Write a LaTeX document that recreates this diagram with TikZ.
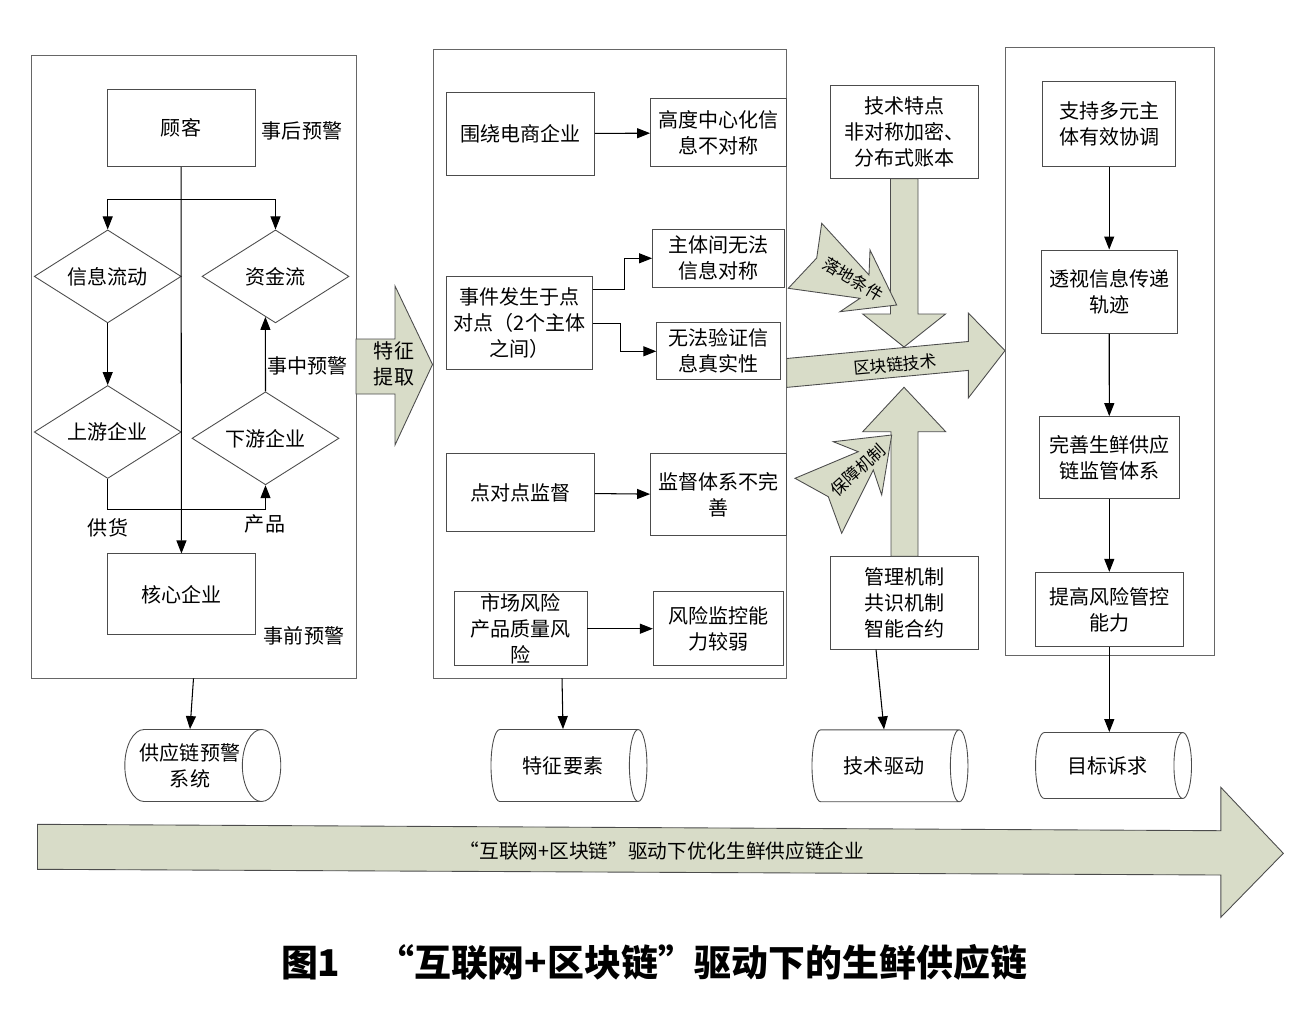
\documentclass[tikz,border=0pt]{standalone}
\usepackage{fontspec}
\setmainfont{Noto Sans CJK SC}
\usetikzlibrary{shapes.geometric,arrows.meta}
\definecolor{blockfill}{RGB}{216,220,200}

\begin{document}
\begin{tikzpicture}[x=0.02cm, y=-0.02cm, >={Triangle[length=0.26cm,width=0.2cm]},
    txt/.style = {font=\fontsize{11.4}{14.8}\selectfont},
    small/.style = {font=\fontsize{9.5}{11}\selectfont},
    box/.style = {txt, draw=black!70, line width=0.5pt, align=center, inner sep=1pt},
    panel/.style = {draw=black!60, line width=0.5pt, inner sep=0pt},
    cond/.style = {txt, draw=black!70, line width=0.5pt, diamond, aspect=1.58, inner sep=0pt, minimum width=2.94cm, minimum height=1.86cm},
    store/.style = {txt, draw=black!70, line width=0.5pt, cylinder, shape aspect=0.8, align=center, inner sep=1pt, minimum height=3.12cm, minimum width=1.44cm},
    block/.style = {draw=black!70, line width=0.5pt, fill=blockfill},
    link/.style = {->, line width=0.6pt}]
    \useasboundingbox (0,0) rectangle (1300,1024);

    \node[panel, minimum width=6.5cm, minimum height=12.46cm] (P1) at (193.5,366.5) {};
    \node[box, minimum width=2.96cm, minimum height=1.54cm] (C) at (181,128.3) {顾客};
    \node[box, minimum width=2.96cm, minimum height=1.62cm] (Core) at (181.5,594.4) {核心企业};
    \node[cond] (D1) at (107.7,276.4) {信息流动};
    \node[cond] (D2) at (275.5,276.4) {资金流};
    \node[cond] (D3) at (107.7,432) {上游企业};
    \node[cond] (D4) at (265.5,438.3) {下游企业};
    \node[txt] (L1) at (302,131) {事后预警};
    \node[txt, anchor=west] (L2) at (261,366) {事中预警};
    \node[txt] (L3) at (108,528) {供货};
    \node[txt] (L4) at (265,524) {产品};
    \node[txt] (L5) at (304,636) {事前预警};
    \node[store] (S1) at (190,765.5) {供应链预警\\系统};

    \coordinate (fork) at (181,199.3);
    \draw[link] (C) -- (Core);
    \draw[link] (fork) -| (D1);
    \draw[link] (fork) -| (D2);
    \draw[link] (D1) -- (D3);
    \draw[link] (D4.north) -- (D2.256);
    \draw[link] (D3.south) -- ++(0,31) -| (D4.south);
    \draw[link] (P1.south) -- (S1.north);

    \draw[block] (356,339) -- (395,339) -- (395,286) -- (432.5,364.5) -- (395,445) -- (395,394) -- (356,394) -- cycle;
    \node[txt, align=center] (F) at (394,364) {特征\\提取};

    \node[panel, minimum width=7.06cm, minimum height=12.58cm] (P2) at (609.5,363.5) {};
    \node[box, minimum width=2.96cm, minimum height=1.66cm] (M1) at (520.5,133.7) {围绕电商企业};
    \node[box, minimum width=2.72cm, minimum height=1.36cm] (M2) at (718.5,132.9) {高度中心化信\\息不对称};
    \node[box, minimum width=2.92cm, minimum height=1.86cm] (M3) at (519.5,323.3) {事件发生于点\\对点（2个主体\\之间）};
    \node[box, minimum width=2.64cm, minimum height=1.16cm] (M4) at (718.5,258.3) {主体间无法\\信息对称};
    \node[box, minimum width=2.48cm, minimum height=1.14cm] (M5) at (718.7,351.3) {无法验证信\\息真实性};
    \node[box, minimum width=2.96cm, minimum height=1.56cm] (M6) at (520.5,492.8) {点对点监督};
    \node[box, minimum width=2.72cm, minimum height=1.64cm] (M7) at (718.5,494.8) {监督体系不完\\善};
    \node[box, minimum width=2.66cm, minimum height=1.48cm] (M8) at (520.5,628.7) {市场风险\\产品质量风\\险};
    \node[box, minimum width=2.6cm, minimum height=1.48cm] (M9) at (718.3,628.7) {风险监控能\\力较弱};
    \node[store] (S2) at (563,765.5) {特征要素};

    \draw[link] (M1) -- (M2);
    \draw[link] ([yshift=0.68cm]M3.east) -- ++(32,0) |- (M4);
    \draw[link] (M3.east) -- ++(28,0) |- (M5);
    \draw[link] (M6) -- (M7);
    \draw[link] (M8) -- (M9);
    \draw[link] ([xshift=-0.95cm]P2.south) -- (S2.north);

    \node[box, minimum width=2.96cm, minimum height=1.86cm] (T1) at (904.5,132.3) {技术特点\\非对称加密、\\分布式账本};
    \node[box, minimum width=2.96cm, minimum height=1.86cm] (T2) at (904.5,602.7) {管理机制\\共识机制\\智能合约};
    \node[store] (S3) at (884,765.8) {技术驱动};

    \draw[block] (890.5,178.6) -- (918,178.6) -- (918,314) -- (945.5,314) -- (904,347) -- (862.7,314) -- (890.5,314) -- cycle;
    \draw[block] (891,556.2) -- (918,556.2) -- (918,431.7) -- (945.7,431.7) -- (904,387.3) -- (862.7,431.7) -- (891,431.7) -- cycle;
    \draw[block] (821.7,223.3) -- (869,275) -- (870,250) -- (896.7,305) -- (840,311.7) -- (860,298.3) -- (788.3,288.3) -- (816.7,258) -- cycle;
    \node[small, rotate=-31] (K1) at (853,279) {落地条件};
    \draw[block] (891.7,435) -- (833.3,441.7) -- (858.3,451.7) -- (795,478.3) -- (828.3,496.7) -- (841.7,533.3) -- (873.3,470) -- (881.7,495) -- cycle;
    \node[small, rotate=42] (K2) at (858,470) {保障机制};
    \draw[block] (786.7,358.5) -- (968.3,341.5) -- (968.3,313) -- (1005,350.6) -- (968.3,398) -- (968.3,370.4) -- (786.7,387.4) -- cycle;
    \node[small, rotate=5.3] (K3) at (895,364.5) {区块链技术};

    \draw[link] ([xshift=-0.57cm]T2.south) -- (S3.north);

    \node[panel, minimum width=4.18cm, minimum height=12.18cm] (P3) at (1109.5,351.4) {};
    \node[box, minimum width=2.66cm, minimum height=1.71cm] (R1) at (1109.2,124) {支持多元主\\体有效协调};
    \node[box, minimum width=2.73cm, minimum height=1.67cm] (R2) at (1109.2,291.7) {透视信息传递\\轨迹};
    \node[box, minimum width=2.8cm, minimum height=1.64cm] (R3) at (1109.3,457.6) {完善生鲜供应\\链监管体系};
    \node[box, minimum width=2.96cm, minimum height=1.49cm] (R4) at (1109.3,609.6) {提高风险管控\\能力};
    \node[store, minimum width=1.32cm] (S4) at (1107.5,765.5) {目标诉求};

    \draw[link] (R1) -- (R2);
    \draw[link] (R2) -- (R3);
    \draw[link] (R3) -- (R4);
    \draw[link] (R4.south) -- (R4.south |- S4.north);

    \draw[block] (37.5,824.3) -- (1220.8,830.7) -- (1220.8,787.3) -- (1283.3,853.3) -- (1220.8,917.3) -- (1220.8,875) -- (37.5,869.3) -- cycle;
    \node[font=\fontsize{11.2}{13}\selectfont] (G) at (662,851) {“互联网+区块链”驱动下优化生鲜供应链企业};

    \node[font=\fontsize{21}{24}\selectfont\bfseries] (title) at (654,962) {图1\quad “互联网+区块链”驱动下的生鲜供应链};
\end{tikzpicture}
\end{document}
